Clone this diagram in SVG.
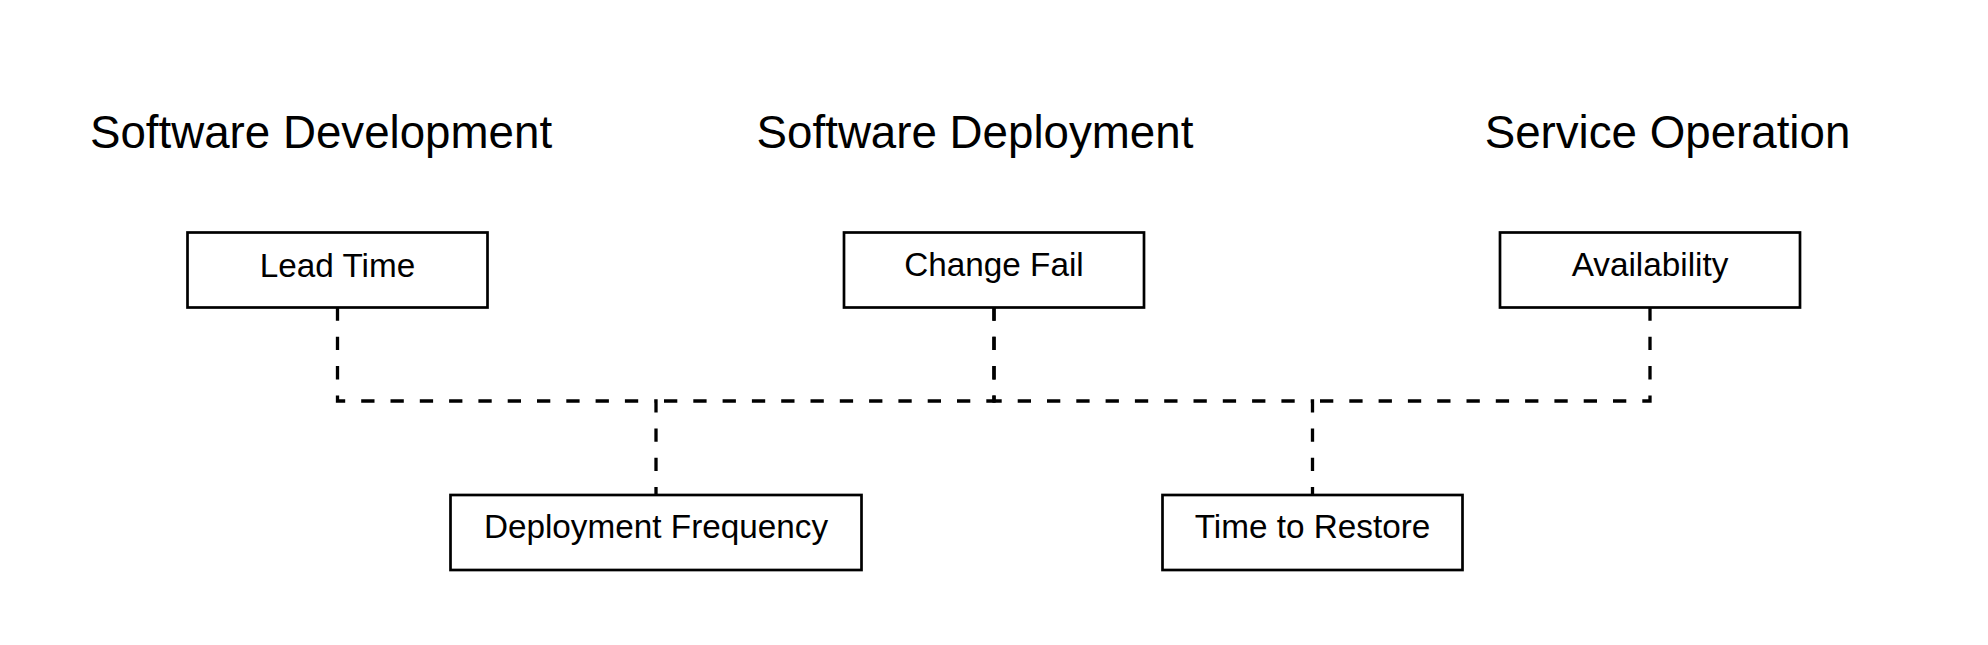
<svg xmlns="http://www.w3.org/2000/svg" width="1988" height="645" viewBox="0 0 1988 645">
<style>
.bg{fill:#ffffff}
.box{fill:#ffffff;stroke:#000000;stroke-width:2.7}
.head{font-family:"Liberation Sans",Arial,sans-serif;font-size:45.7px;fill:#000000;text-anchor:middle}
.lbl{font-family:"Liberation Sans",Arial,sans-serif;font-size:33.3px;fill:#000000;text-anchor:middle}
.conn{fill:none;stroke:#000000;stroke-width:3.3;stroke-dasharray:13.3 16}
</style>
<rect class="bg" x="0" y="0" width="1988" height="645"/>
<g id="headings">
<text id="h-dev" class="head" x="321" y="148">Software Development</text>
<text id="h-dep" class="head" x="975" y="148">Software Deployment</text>
<text id="h-ops" class="head" x="1667.5" y="148">Service Operation</text>
</g>
<g id="connectors">
<path class="conn" d="M337.5,307.5 V401 H656 V495"/>
<path class="conn" d="M994,307.5 V401 H656"/>
<path class="conn" d="M994,307.5 V401 H1312.5 V495"/>
<path class="conn" d="M1650,307.5 V401 H1312.5"/>
</g>
<g id="lead-time">
<rect class="box" x="187.5" y="232.5" width="300" height="75"/>
<text class="lbl" x="337.5" y="276.5">Lead Time</text>
</g>
<g id="change-fail">
<rect class="box" x="844" y="232.5" width="300" height="75"/>
<text class="lbl" x="994" y="276">Change Fail</text>
</g>
<g id="availability">
<rect class="box" x="1500" y="232.5" width="300" height="75"/>
<text class="lbl" x="1650" y="276">Availability</text>
</g>
<g id="deployment-frequency">
<rect class="box" x="450.5" y="495" width="411" height="75"/>
<text class="lbl" x="656" y="537.5">Deployment Frequency</text>
</g>
<g id="time-to-restore">
<rect class="box" x="1162.5" y="495" width="300" height="75"/>
<text class="lbl" x="1312.5" y="538">Time to Restore</text>
</g>
</svg>
